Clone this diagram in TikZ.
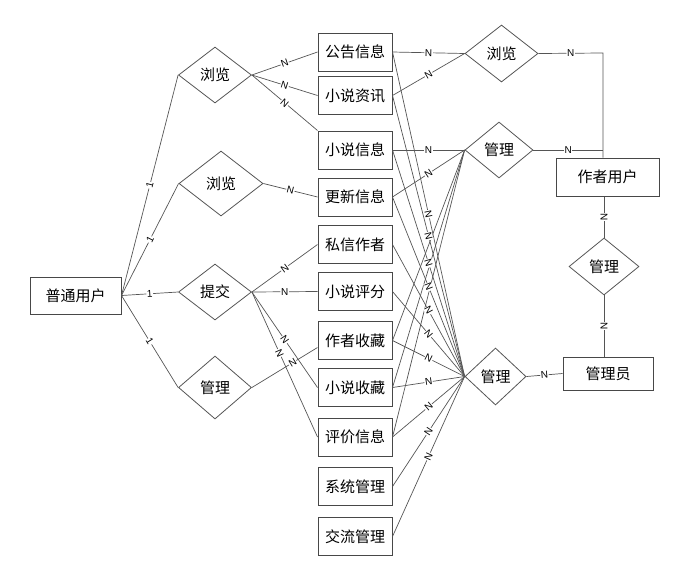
\documentclass[tikz,border=0pt]{standalone}
\usepackage{fontspec}
\setsansfont{Liberation Sans}
\newfontfamily\cjkfont{Noto Sans CJK SC}
\usetikzlibrary{shapes.geometric, positioning}
\definecolor{lineGray}{HTML}{555555}
\definecolor{boxGray}{HTML}{484848}

\begin{document}
\begin{tikzpicture}[x=1pt, y=-1pt,
  every node/.style={font=\cjkfont\fontsize{15}{18}\selectfont},
  entity/.style={draw=boxGray, line width=1pt, minimum width=74pt,
    minimum height=38pt, inner sep=0pt},
  relation/.style={diamond, draw=lineGray, line width=0.8pt, inner sep=0pt,
    minimum width=73pt, minimum height=56pt},
  link/.style={draw=lineGray, line width=0.7pt},
  card/.style={font=\sffamily\fontsize{10}{10}\selectfont, fill=white,
    inner sep=0.6pt, sloped},
]
  \useasboundingbox (0,0) rectangle (695,582);

  % entities
  \node[entity, minimum width=91pt, minimum height=37pt] (user) at (75.5, 295.5) {普通用户};
  \node[entity] (notice)  at (355, 52)    {公告信息};
  \node[entity] (news)    at (355, 95.5)  {小说资讯};
  \node[entity] (novel)   at (355, 150)   {小说信息};
  \node[entity] (update)  at (355, 197)   {更新信息};
  \node[entity] (letter)  at (355, 244.5) {私信作者};
  \node[entity] (score)   at (355, 291.5) {小说评分};
  \node[entity] (favauth) at (355, 340.5) {作者收藏};
  \node[entity] (favnov)  at (355, 387.5) {小说收藏};
  \node[entity] (review)  at (355, 437)   {评价信息};
  \node[entity] (sysman)  at (355, 486.5) {系统管理};
  \node[entity] (chat)    at (355, 536.5) {交流管理};
  \node[entity, minimum width=103pt] (author) at (607.5, 177) {作者用户};
  \node[entity, minimum width=90pt, minimum height=33pt] (admin) at (608, 373.5) {管理员};

  % relations
  \node[relation] (browseA) at (215, 75) {浏览};
  \node[relation, minimum width=84pt, minimum height=65pt] (browseB) at (221, 183.5) {浏览};
  \node[relation] (submit) at (215, 292) {提交};
  \node[relation, minimum height=63pt] (manU) at (215, 387.5) {管理};
  \node[relation, minimum height=57pt] (browseR) at (501.5, 53.5) {浏览};
  \node[relation, minimum width=68pt] (manW) at (499, 150) {管理};
  \node[relation, minimum width=70pt, minimum height=57pt] (manAA) at (604, 266.5) {管理};
  \node[relation, minimum width=61pt, minimum height=57pt] (manA) at (495.5, 376.5) {管理};

  \coordinate (bend) at (603, 53);

  % 普通用户
  \draw[link] (user.east) -- node[card]{1} (browseA.west);
  \draw[link] (user.east) -- node[card]{1} (browseB.west);
  \draw[link] (user.east) -- node[card]{1} (submit.west);
  \draw[link] (user.east) -- node[card]{1} (manU.west);

  \draw[link] (browseA.east) -- node[card]{N} (notice.west);
  \draw[link] (browseA.east) -- node[card]{N} (news.west);
  \draw[link] (browseA.east) -- node[card]{N} (novel.north west);
  \draw[link] (browseB.east) -- node[card]{N} (update.west);
  \draw[link] (submit.east) -- node[card]{N} (letter.west);
  \draw[link] (submit.east) -- node[card]{N} (score.west);
  \draw[link] (submit.east) -- node[card]{N} (favnov.west);
  \draw[link] (submit.east) -- node[card, pos=0.42]{N} (review.west);
  \draw[link] (manU.east) -- node[card, pos=0.62]{N} ([yshift=-7pt]favauth.west);

  % 作者用户
  \draw[link] (notice.east) -- node[card]{N} (browseR.west);
  \draw[link] (news.east) -- node[card]{N} (browseR.west);
  \draw[link] (browseR.east) -- node[card]{N} (bend) -- (author.north -| bend);
  \draw[link] (novel.east) -- node[card]{N} (manW.west);
  \draw[link] (update.east) -- node[card]{N} (manW.west);
  \draw[link] (manW.east) -- node[card]{N} (manW.east -| bend);
  \draw[link] (favauth.east) -- (manW.west);
  \draw[link] (favnov.east) -- (manW.west);
  \draw[link] (review.east) -- (manW.west);
  \draw[link] (manAA.north |- author.south) -- node[card]{N} (manAA.north);

  % 管理员
  \draw[link] (notice.east)  -- node[card]{N} (manA.west);
  \draw[link] (news.east)    -- node[card]{N} (manA.west);
  \draw[link] (novel.east)   -- node[card]{N} (manA.west);
  \draw[link] (update.east)  -- node[card]{N} (manA.west);
  \draw[link] (letter.east)  -- node[card]{N} (manA.west);
  \draw[link] (score.east)   -- node[card]{N} (manA.west);
  \draw[link] (favauth.east) -- node[card]{N} (manA.west);
  \draw[link] (favnov.east)  -- node[card]{N} (manA.west);
  \draw[link] (review.east)  -- node[card]{N} (manA.west);
  \draw[link] (sysman.east)  -- node[card]{N} (manA.west);
  \draw[link] (chat.east)    -- node[card]{N} (manA.west);
  \draw[link] (manA.east) -- node[card]{N} (admin.west);
  \draw[link] (manAA.south) -- node[card]{N} (manAA.south |- admin.north);
\end{tikzpicture}
\end{document}
